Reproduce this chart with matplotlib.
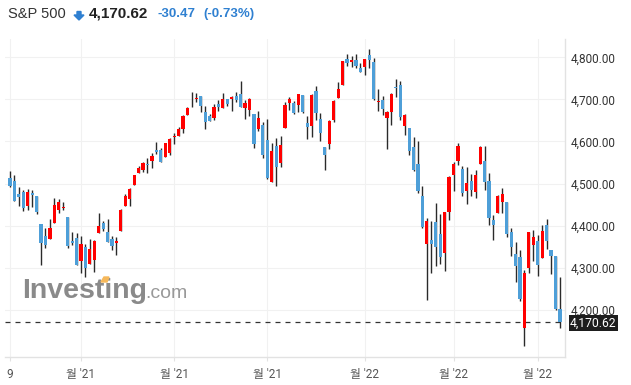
import numpy as np
import pandas as pd
import matplotlib
matplotlib.use("Agg")
import matplotlib.pyplot as plt
from matplotlib.patches import Polygon

# S&P 500 daily candles, 2021-09-09 .. 2022-03-08
holidays = ["2021-11-25", "2021-12-24", "2022-01-17", "2022-02-21"]
dates = pd.bdate_range("2021-09-09", "2022-03-08", freq="C", holidays=holidays)

opens = [4513.02, 4506.92, 4474.81, 4479.33, 4447.49, 4477.09, 4469.74, 4402.95, 4374.45, 4367.43,
         4406.75, 4438.04, 4442.12, 4419.54, 4362.41, 4370.67,
         4317.16, 4348.84, 4309.87, 4319.57, 4383.73, 4406.51, 4385.44, 4368.31, 4358.01, 4386.75,
         4447.69, 4463.72, 4497.34, 4524.42, 4532.24, 4546.12, 4553.69, 4578.69, 4580.22, 4562.84, 4572.87,
         4610.62, 4613.34, 4630.65, 4662.93, 4699.26, 4701.48, 4707.25, 4670.26, 4659.39, 4655.24,
         4689.30, 4679.42, 4701.50, 4700.72, 4708.44, 4712.00, 4678.48, 4675.78, 4664.63, 4628.75, 4640.25,
         4602.82, 4504.73, 4589.49, 4548.37, 4631.97, 4690.86, 4691.00, 4687.64, 4710.30, 4642.99,
         4636.46, 4719.13, 4652.50, 4587.90, 4594.96, 4650.36, 4703.96, 4733.99, 4795.49, 4788.64, 4794.23, 4775.21,
         4778.14, 4804.51, 4787.99, 4693.39, 4697.66, 4655.34, 4669.14, 4728.59, 4733.56, 4637.99,
         4632.24, 4588.03, 4547.35, 4471.38, 4356.32, 4366.64, 4408.43, 4380.58, 4336.19, 4431.79,
         4519.57, 4552.53, 4535.41, 4482.79, 4505.75, 4480.02, 4547.00, 4553.24, 4506.27, 4412.61,
         4429.28, 4455.75, 4456.06, 4384.57, 4332.74, 4324.93, 4155.77, 4298.38, 4354.17,
         4363.14, 4322.56, 4401.31, 4342.12, 4327.01, 4202.66]
highs = [4529.90, 4520.47, 4492.99, 4485.68, 4486.87, 4485.87, 4471.52, 4402.95, 4394.87, 4416.75,
         4465.40, 4463.12, 4457.30, 4419.54, 4385.57, 4382.55,
         4375.19, 4355.51, 4369.23, 4365.57, 4429.97, 4412.02, 4415.88, 4374.89, 4372.87, 4439.73,
         4475.82, 4488.75, 4520.40, 4540.87, 4551.44, 4559.67, 4572.62, 4598.53, 4584.57, 4597.55, 4608.08,
         4620.34, 4635.15, 4663.46, 4683.00, 4718.50, 4714.92, 4708.53, 4684.85, 4664.55, 4688.47,
         4697.42, 4714.95, 4701.50, 4708.80, 4717.75, 4743.83, 4699.39, 4702.87, 4664.63, 4672.95, 4646.02,
         4652.94, 4595.46, 4608.03, 4612.60, 4694.04, 4705.06, 4695.26, 4713.57, 4710.30, 4660.47,
         4712.60, 4731.99, 4666.70, 4587.90, 4651.14, 4697.67, 4740.74, 4791.49, 4807.02, 4804.06, 4808.93, 4786.83,
         4796.64, 4818.62, 4797.70, 4725.01, 4707.95, 4673.02, 4714.13, 4748.83, 4744.13, 4665.13,
         4632.24, 4611.55, 4602.11, 4494.52, 4417.35, 4411.01, 4453.23, 4428.74, 4432.72, 4516.89,
         4550.49, 4595.31, 4542.88, 4539.66, 4521.86, 4531.32, 4590.03, 4588.92, 4526.33, 4426.22,
         4472.77, 4489.55, 4456.06, 4394.60, 4362.12, 4341.51, 4294.73, 4385.34, 4388.84,
         4378.45, 4401.48, 4416.78, 4342.12, 4327.01, 4276.94]
lows = [4492.07, 4457.66, 4445.70, 4435.46, 4438.37, 4443.80, 4427.76, 4305.91, 4347.96, 4367.43,
        4406.75, 4430.27, 4436.19, 4346.33, 4355.08, 4306.24,
        4288.52, 4278.94, 4309.87, 4290.49, 4383.73, 4386.22, 4360.59, 4342.09, 4329.92, 4386.75,
        4447.69, 4447.47, 4496.41, 4524.40, 4526.89, 4524.00, 4537.36, 4569.17, 4551.66, 4562.84, 4567.59,
        4595.06, 4613.34, 4621.19, 4662.59, 4681.32, 4694.39, 4670.87, 4630.86, 4648.31, 4650.77,
        4672.86, 4679.42, 4684.41, 4672.78, 4694.22, 4682.17, 4652.66, 4659.89, 4585.43, 4625.26, 4560.00,
        4510.27, 4504.73, 4495.12, 4540.51, 4631.97, 4674.52, 4665.98, 4670.64, 4667.60, 4606.52,
        4611.22, 4651.89, 4600.22, 4531.10, 4583.16, 4645.53, 4703.96, 4733.99, 4780.04, 4778.08, 4775.33, 4765.75,
        4758.17, 4774.27, 4699.44, 4671.26, 4662.74, 4582.24, 4638.27, 4706.71, 4650.29, 4614.75,
        4568.70, 4530.20, 4477.95, 4395.34, 4222.62, 4287.11, 4304.80, 4309.50, 4292.46, 4414.02,
        4483.53, 4544.32, 4470.39, 4451.50, 4471.47, 4465.40, 4547.00, 4484.31, 4401.41, 4364.84,
        4429.28, 4429.68, 4373.81, 4327.22, 4267.11, 4221.51, 4114.65, 4286.83, 4315.12,
        4279.54, 4322.56, 4345.56, 4284.98, 4199.85, 4157.87]
closes = [4493.28, 4458.58, 4468.73, 4443.05, 4480.70, 4473.75, 4432.99, 4357.73, 4354.19, 4395.64,
          4448.98, 4455.48, 4443.11, 4352.63, 4359.46, 4307.54,
          4357.04, 4300.46, 4345.72, 4363.55, 4399.76, 4391.34, 4361.19, 4350.65, 4363.80, 4438.26,
          4471.37, 4486.46, 4519.63, 4536.19, 4549.78, 4544.90, 4566.48, 4574.79, 4551.68, 4596.42, 4605.38,
          4613.67, 4630.65, 4660.57, 4680.06, 4697.53, 4701.70, 4685.25, 4646.71, 4649.27, 4682.85,
          4682.80, 4700.90, 4688.67, 4704.54, 4697.96, 4682.94, 4690.70, 4701.46, 4594.62, 4655.27, 4567.00,
          4513.04, 4577.10, 4538.43, 4591.67, 4686.75, 4701.21, 4667.45, 4712.02, 4668.97, 4634.09,
          4709.85, 4668.67, 4620.64, 4568.02, 4649.23, 4696.56, 4725.79, 4791.19, 4786.35, 4793.06, 4778.73, 4766.18,
          4796.56, 4793.54, 4700.58, 4696.05, 4677.03, 4670.29, 4713.07, 4726.35, 4659.03, 4662.85,
          4577.11, 4532.76, 4482.73, 4397.94, 4410.13, 4356.45, 4349.93, 4326.51, 4431.85, 4515.55,
          4546.54, 4589.38, 4477.44, 4500.53, 4483.87, 4521.54, 4587.18, 4504.08, 4418.64, 4401.67,
          4471.07, 4475.01, 4380.26, 4348.87, 4304.76, 4225.50, 4288.70, 4384.65, 4373.94,
          4306.26, 4386.54, 4363.49, 4328.87, 4201.09, 4170.62]

last_price = 4170.62
y_ticks = [4200, 4300, 4400, 4500, 4600, 4700, 4800]
month_labels = ["9", "월 '21", "월 '21", "월 '21", "월 '22", "월 '22", "월 '22"]

UP = "#ff0000"
DOWN = "#4e9fd8"
WICK = "#2a2a2a"
BLUE_TXT = "#2f80d1"

o = np.array(opens); h = np.array(highs); l = np.array(lows); c = np.array(closes)
x = np.arange(len(c))
colors = np.where(c >= o, UP, DOWN)

fig = plt.figure(figsize=(6.31, 3.85), dpi=100, facecolor="white")
ax = fig.add_axes([5 / 631, 28 / 385, 560 / 631, 318 / 385])

# grid
ax.set_axisbelow(True)
ax.grid(True, color="#f1f1f1", linewidth=0.8)

# watermark
fig.text(22 / 631, 1 - 298 / 385, "Investing", fontsize=20.5, fontweight="bold",
         color="#8a8a8a", family="Liberation Sans", zorder=0.5)
fig.text(145 / 631, 1 - 298 / 385, ".com", fontsize=14, color="#999999",
         family="Liberation Sans", zorder=0.5)
fig.patches.append(Polygon([(101 / 631, 1 - 282 / 385), (104 / 631, 1 - 277 / 385),
                            (109 / 631, 1 - 277 / 385), (107 / 631, 1 - 282 / 385)],
                           closed=True, transform=fig.transFigure, color="#f6b85a", zorder=0.6))

# candles
ax.vlines(x, l, h, color=WICK, linewidth=1.0, zorder=2)
body_lo = np.minimum(o, c)
body_h = np.maximum(np.abs(c - o), 1.6)
ax.bar(x, body_h, bottom=body_lo, width=0.72, color=colors, linewidth=0, zorder=3)

# last price line
ax.axhline(last_price, color="#333333", linewidth=0.9, linestyle=(0, (4, 4)), zorder=1)

ax.set_xlim(-1.13, 125.14)
ax.set_ylim(4088, 4843.5)

# axes styling
for s in ["top", "left"]:
    ax.spines[s].set_visible(False)
for s in ["right", "bottom"]:
    ax.spines[s].set_color("#e2e2e2")
    ax.spines[s].set_linewidth(1)

ax.yaxis.tick_right()
ax.set_yticks(y_ticks)
ax.set_yticklabels([f"{v:,.2f}" for v in y_ticks], family="Roboto", fontsize=8.5, color="#333333")
ax.tick_params(axis="y", length=0, pad=4)

month_idx = [0] + [i for i in range(1, len(dates)) if dates[i].month != dates[i - 1].month]
ax.set_xticks(month_idx)
ax.set_xticklabels(month_labels, family=["Roboto", "Noto Sans CJK KR"], fontsize=8.5, color="#555555")
ax.tick_params(axis="x", length=3, color="#e2e2e2", pad=5)

# last price tag
ax.text(1.009, last_price - 1.5, f"{last_price:,.2f}", transform=ax.get_yaxis_transform(),
        ha="left", va="center", family="Roboto", fontsize=8.7, color="white",
        bbox=dict(boxstyle="square,pad=0.1", facecolor="#1e1e1e", edgecolor="none"),
        clip_on=False, zorder=5)

# header
fig.text(8 / 631, 1 - 14 / 385, "S&P 500", fontsize=10.5, color="#333333",
         family="Liberation Sans", va="center")
arrow = [(77, 11.5), (81, 11.5), (81, 15), (84, 15), (79, 20), (74, 15), (77, 15)]
fig.patches.append(Polygon([(px / 631, 1 - py / 385) for px, py in arrow], closed=True,
                           transform=fig.transFigure, color=BLUE_TXT))
fig.text(89 / 631, 1 - 14 / 385, "4,170.62", fontsize=11, fontweight="bold", color="#222222",
         family="Liberation Sans", va="center")
fig.text(158 / 631, 1 - 14 / 385, "-30.47", fontsize=9.5, fontweight="bold", color=BLUE_TXT,
         family="Liberation Sans", va="center")
fig.text(203 / 631, 1 - 14 / 385, "(-0.73%)", fontsize=9.5, fontweight="bold", color=BLUE_TXT,
         family="Liberation Sans", va="center")

fig.savefig("out.png", dpi=100, facecolor="white")
